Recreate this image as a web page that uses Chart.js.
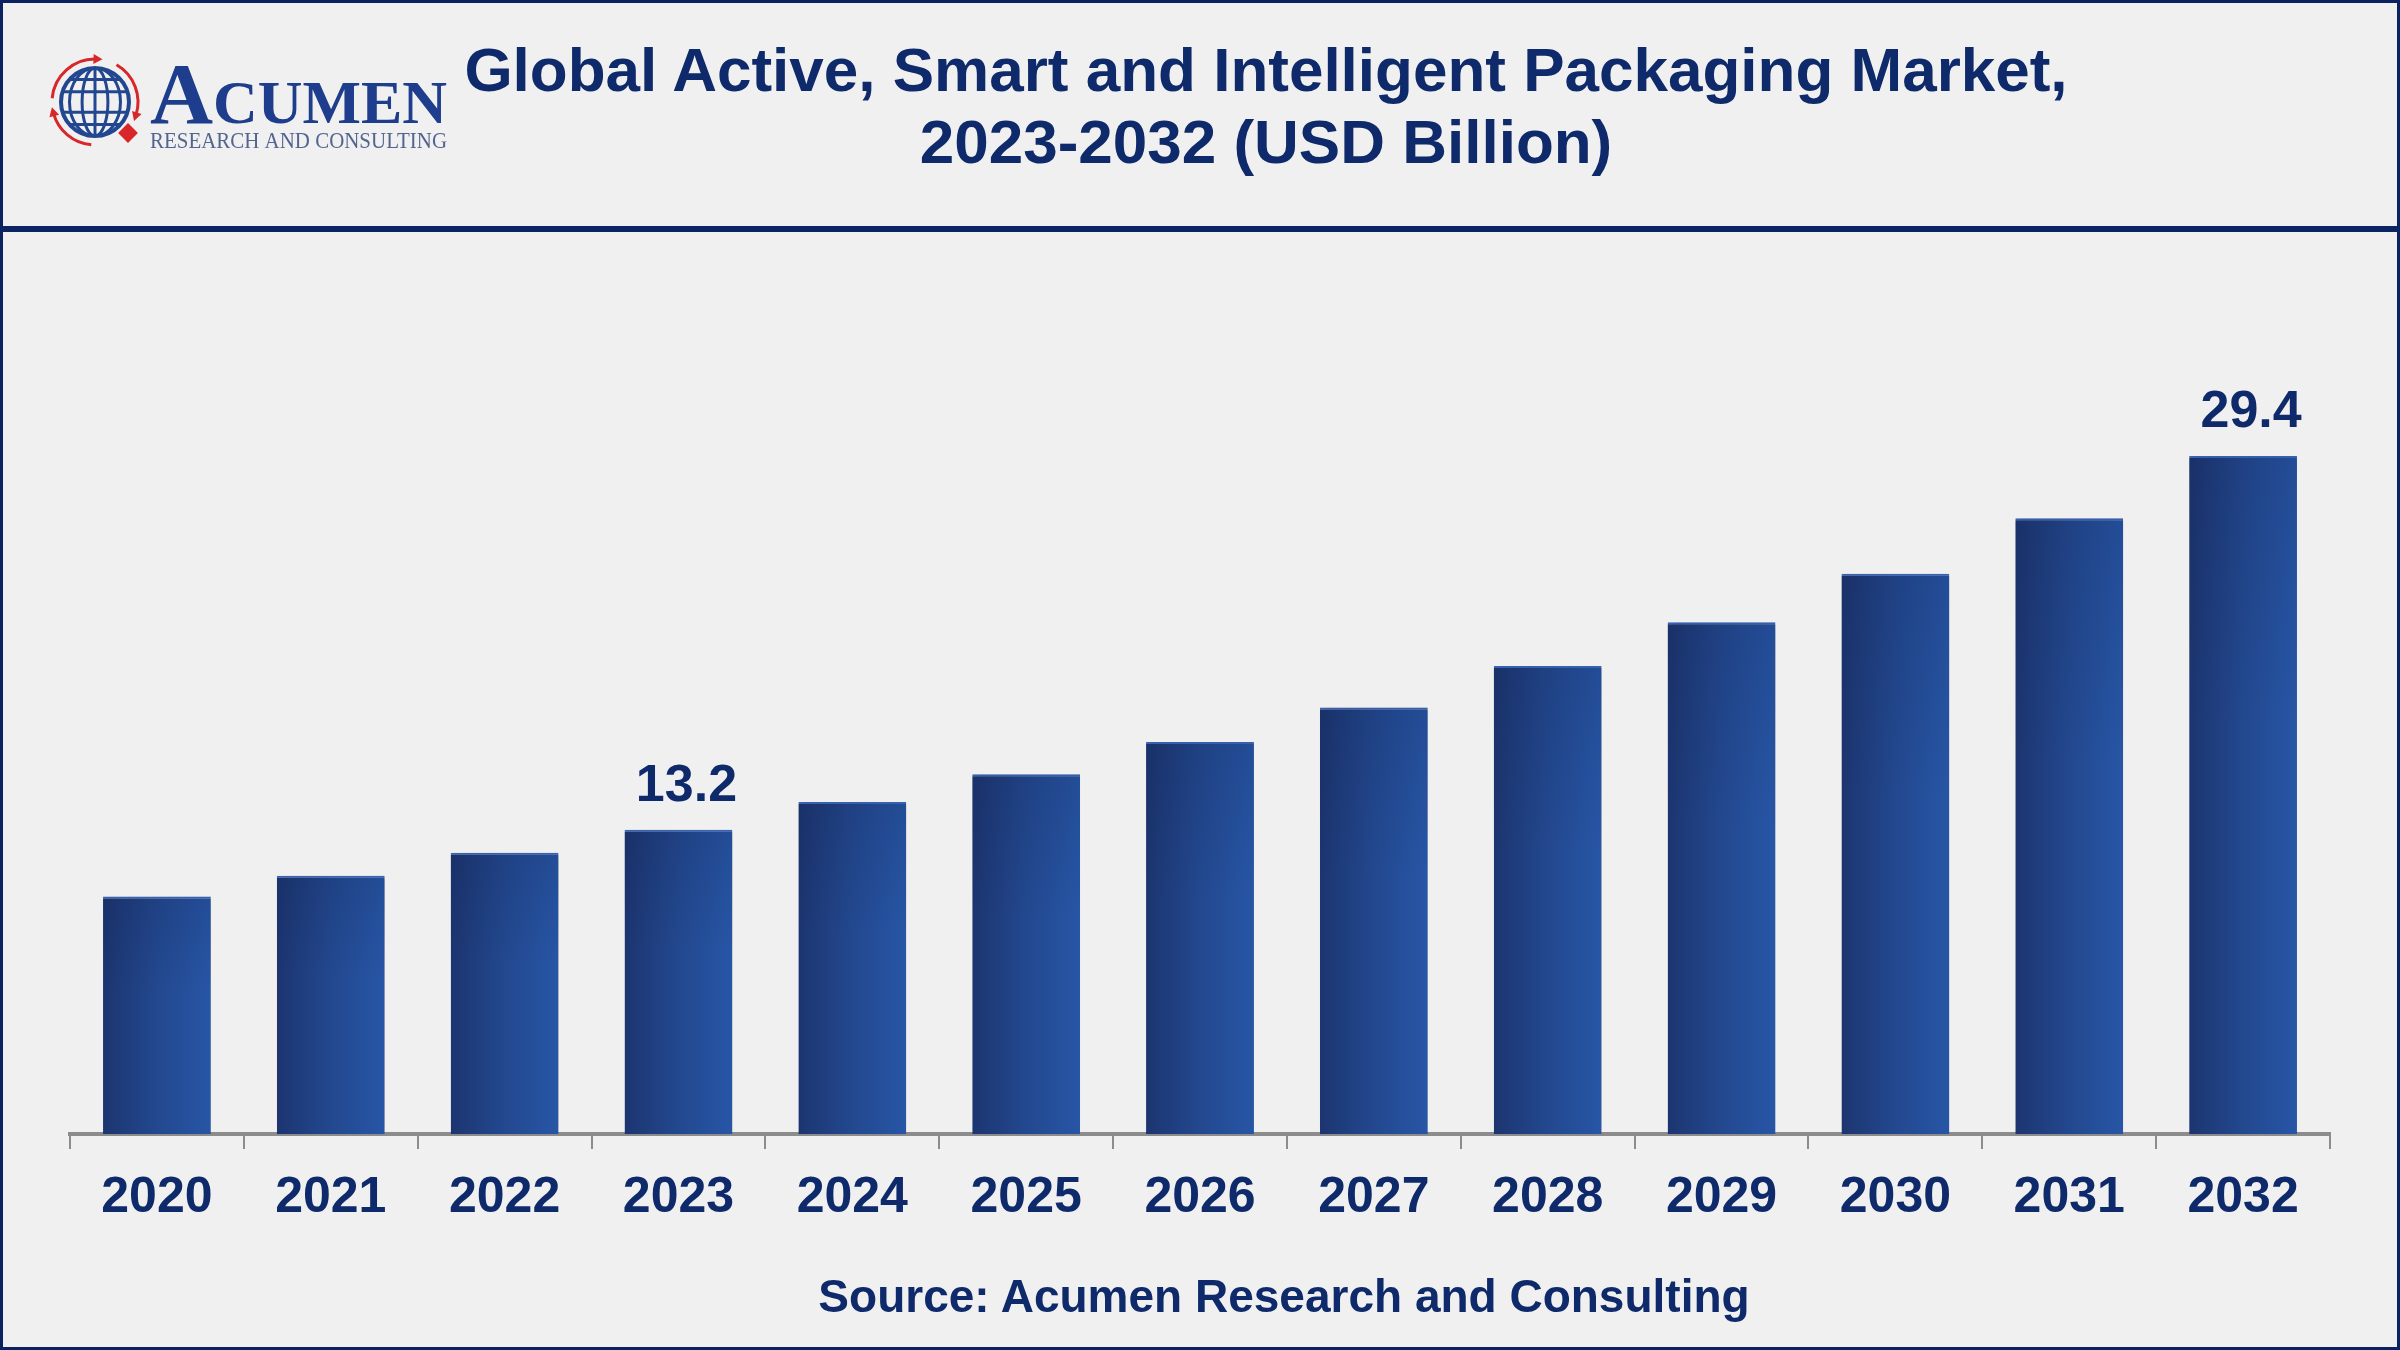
<!DOCTYPE html>
<html lang="en">
<head>
    <meta charset="UTF-8">
    <title>Global Active, Smart and Intelligent Packaging Market</title>
    <style>
        html, body { margin: 0; padding: 0; background: #f0f0f0; }
        .page {
            position: relative;
            width: 2400px;
            height: 1350px;
            background: #f0f0f0;
            overflow: hidden;
            font-family: "Liberation Sans", Arial, sans-serif;
            color: #0f2a6a;
        }
        .frame {
            position: absolute;
            left: 0; top: 0; width: 2400px; height: 1350px;
            box-sizing: border-box;
            border: 3px solid #0b2260;
            z-index: 5;
        }
        .rule {
            position: absolute;
            left: 0; top: 226px; width: 2400px; height: 6px;
            background: #0b2463;
            z-index: 4;
        }
        .title {
            position: absolute;
            left: 366px; top: 34px; width: 1800px;
            text-align: center;
            font-weight: bold;
            font-size: 62px;
            line-height: 72px;
            z-index: 3;
        }
        .source {
            position: absolute;
            left: 384px; top: 1266px; width: 1800px;
            text-align: center;
            font-weight: bold;
            font-size: 46px;
            line-height: 60px;
            z-index: 3;
        }
        #logo { position: absolute; left: 40px; top: 40px; z-index: 3; }
        .chart-box { position: absolute; left: 0; top: 0; width: 2400px; height: 1350px; }
    </style>
    <script src="https://cdn.jsdelivr.net/npm/chart.js"></script>
</head>
<body>
<div class="page">
    <canvas id="logo" width="440" height="120"></canvas>
    <div class="title">Global Active, Smart and Intelligent Packaging Market,<br>2023-2032 (USD Billion)</div>
    <div class="rule"></div>
    <div class="chart-box"><canvas id="marketChart"></canvas></div>
    <div class="source">Source: Acumen Research and Consulting</div>
    <div class="frame"></div>
</div>

<script>
    // chart data (USD billion)
    const years = ['2020', '2021', '2022', '2023', '2024', '2025', '2026', '2027', '2028', '2029', '2030', '2031', '2032'];
    const marketValues = [10.3, 11.2, 12.2, 13.2, 14.4, 15.6, 17.0, 18.5, 20.3, 22.2, 24.3, 26.7, 29.4];
    const labelledYears = ['2023', '2032'];

    const navy = '#0f2a6a';
    const barShare = 0.62;

    // logo: globe with red arrows, then the wordmark
    function drawLogo() {
        const c = document.getElementById('logo').getContext('2d');
        const cx = 55, cy = 62, r = 34;

        // red ring pieces
        c.strokeStyle = '#d8262b';
        c.lineWidth = 3;
        [[185, 272], [300, 378], [95, 165]].forEach(([a, b]) => {
            c.beginPath();
            c.arc(cx, cy, r + 9, a * Math.PI / 180, b * Math.PI / 180);
            c.stroke();
            const e = b * Math.PI / 180;
            const ex = cx + (r + 9) * Math.cos(e), ey = cy + (r + 9) * Math.sin(e);
            c.save();
            c.translate(ex, ey);
            c.rotate(e + Math.PI / 2);
            c.fillStyle = '#d8262b';
            c.beginPath();
            c.moveTo(6, 0); c.lineTo(-3, -5); c.lineTo(-3, 5); c.closePath();
            c.fill();
            c.restore();
        });

        // globe
        c.save();
        c.beginPath();
        c.arc(cx, cy, r, 0, Math.PI * 2);
        c.clip();
        c.strokeStyle = '#22468f';
        c.lineWidth = 3;
        [0.38, 0.75].forEach(k => {
            c.beginPath();
            c.ellipse(cx, cy, r * k, r, 0, 0, Math.PI * 2);
            c.stroke();
        });
        c.beginPath(); c.moveTo(cx, cy - r); c.lineTo(cx, cy + r); c.stroke();
        [-0.66, -0.3, 0.3, 0.66].forEach(k => {
            c.beginPath(); c.moveTo(cx - r, cy + k * r); c.lineTo(cx + r, cy + k * r); c.stroke();
        });
        c.restore();
        c.strokeStyle = '#22468f';
        c.lineWidth = 4;
        c.beginPath(); c.arc(cx, cy, r, 0, Math.PI * 2); c.stroke();

        // red diamond
        c.save();
        c.translate(88, 93);
        c.rotate(Math.PI / 4);
        c.fillStyle = '#d8262b';
        c.fillRect(-7, -7, 14, 14);
        c.restore();

        // wordmark
        c.fillStyle = '#1e3d8c';
        c.textBaseline = 'alphabetic';
        c.font = 'bold 86px "Liberation Serif", serif';
        const wA = c.measureText('A').width;
        c.font = 'bold 61px "Liberation Serif", serif';
        const wRest = c.measureText('CUMEN').width;
        const sx = 297 / (wA + wRest);
        c.save();
        c.translate(110, 83);
        c.scale(sx, 1);
        c.font = 'bold 86px "Liberation Serif", serif';
        c.fillText('A', 0, 0);
        c.font = 'bold 61px "Liberation Serif", serif';
        c.fillText('CUMEN', wA, 0);
        c.restore();

        c.fillStyle = '#53658f';
        c.font = '23px "Liberation Serif", serif';
        const sub = 'RESEARCH AND CONSULTING';
        const ws = c.measureText(sub).width;
        c.save();
        c.translate(110, 108);
        c.scale(297 / ws, 1);
        c.fillText(sub, 0, 0);
        c.restore();
    }
    drawLogo();

    // one horizontal gradient per bar, placed from the x scale
    function barFill(context) {
        const chart = context.chart;
        const xs = chart.scales.x;
        if (!chart.chartArea || !xs) return '#214a94';
        const x = xs.getPixelForValue(context.dataIndex);
        const w = xs.width / years.length * barShare;
        const g = chart.ctx.createLinearGradient(x - w / 2, 0, x + w / 2, 0);
        g.addColorStop(0, '#1c3570');
        g.addColorStop(0.5, '#23488f');
        g.addColorStop(1, '#2756a6');
        return g;
    }

    // soft shadow under the bars, darker top, value labels
    const barDecor = {
        id: 'barDecor',
        beforeDatasetsDraw(chart) {
            const ctx = chart.ctx;
            ctx.save();
            ctx.shadowColor = 'rgba(0, 0, 0, 0.3)';
            ctx.shadowBlur = 7;
            ctx.shadowOffsetX = 3;
            ctx.shadowOffsetY = 2;
        },
        afterDatasetsDraw(chart) {
            const ctx = chart.ctx;
            ctx.restore();
            const meta = chart.getDatasetMeta(0);
            meta.data.forEach((bar, i) => {
                const left = bar.x - bar.width / 2;
                const h = bar.base - bar.y;
                const g = ctx.createLinearGradient(0, bar.y, 0, bar.y + h * 0.4);
                g.addColorStop(0, 'rgba(10, 22, 60, 0.14)');
                g.addColorStop(1, 'rgba(10, 22, 60, 0)');
                ctx.fillStyle = g;
                ctx.fillRect(left, bar.y + 2, bar.width, h * 0.4);

                if (labelledYears.includes(years[i])) {
                    ctx.save();
                    ctx.fillStyle = navy;
                    ctx.font = 'bold 52px "Liberation Sans", Arial, sans-serif';
                    ctx.textAlign = 'center';
                    ctx.textBaseline = 'alphabetic';
                    ctx.fillText(marketValues[i].toFixed(1), bar.x + 8, bar.y - 29);
                    ctx.restore();
                }
            });
        }
    };

    const ctx = document.getElementById('marketChart').getContext('2d');
    const chart = new Chart(ctx, {
        type: 'bar',
        data: {
            labels: years,
            datasets: [{
                data: marketValues,
                backgroundColor: barFill,
                borderColor: '#3a66b8',
                borderWidth: { top: 2, left: 0, right: 0, bottom: 0 },
                borderSkipped: false,
                barPercentage: barShare,
                categoryPercentage: 1.0
            }]
        },
        options: {
            responsive: true,
            maintainAspectRatio: false,
            devicePixelRatio: 1,
            animation: false,
            layout: { padding: { left: 70, right: 70, top: 327, bottom: 116 } },
            plugins: {
                legend: { display: false },
                tooltip: { enabled: false }
            },
            scales: {
                x: {
                    offset: true,
                    grid: {
                        offset: true,
                        drawOnChartArea: false,
                        drawTicks: true,
                        tickLength: 15,
                        color: '#8c8c8c',
                        lineWidth: 2
                    },
                    border: { display: true, color: '#8c8c8c', width: 4 },
                    ticks: {
                        color: navy,
                        padding: 19,
                        maxRotation: 0,
                        font: { family: '"Liberation Sans", Arial, sans-serif', size: 50, weight: 'bold' }
                    },
                    afterFit(scale) { scale.height = 100; }
                },
                y: {
                    display: false,
                    min: 0,
                    max: 35
                }
            }
        },
        plugins: [barDecor]
    });
</script>
</body>
</html>
